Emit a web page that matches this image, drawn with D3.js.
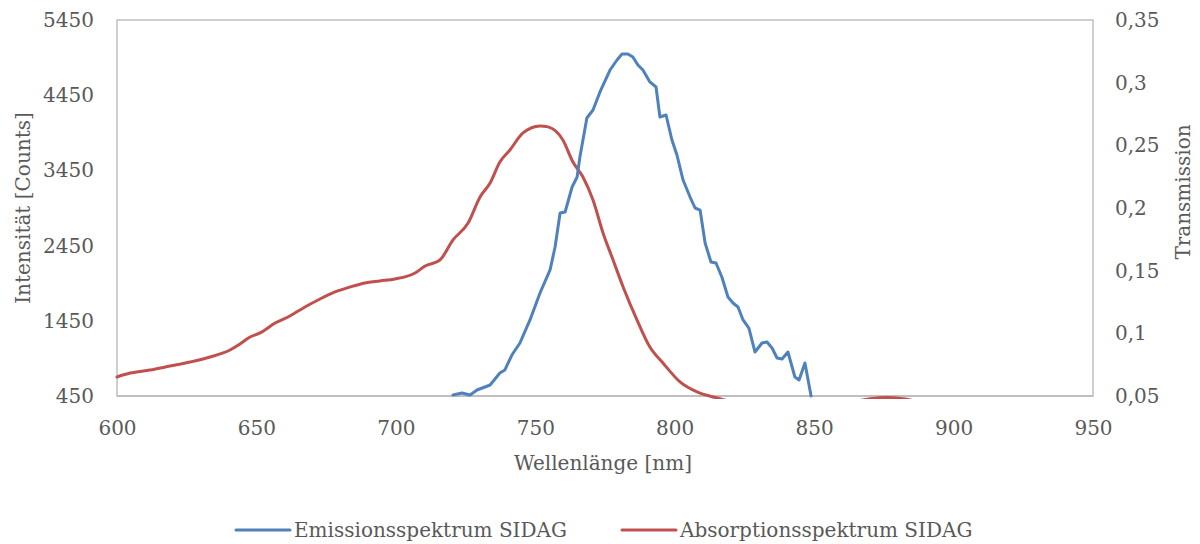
<!DOCTYPE html>
<html>
<head>
<meta charset="utf-8">
<script src="https://cdn.jsdelivr.net/npm/d3@7/dist/d3.min.js"></script>
<style>
  html, body { margin: 0; padding: 0; background: #fff; }
  svg text { font-family: "DejaVu Serif", serif; fill: #595959; }
</style>
</head>
<body>
<div id="chart"></div>
<script>
// Emissionsspektrum (linke Achse, Counts)
const emWave = [720.5, 723.7, 726.6, 729.1, 733.8, 737.3, 739.1, 741.6, 744.5, 748.1,
  751.7, 755.3, 757.1, 758.9, 760.7, 763.2, 765.0, 766.0, 768.5, 770.7,
  773.2, 776.8, 779.3, 781.1, 783.2, 785.0, 786.8, 788.6, 791.1, 793.3,
  794.7, 796.9, 799.0, 800.8, 803.0, 805.5, 807.3, 809.1, 810.9, 813.0,
  814.8, 816.9, 819.1, 820.9, 822.7, 824.5, 826.6, 828.8, 831.3, 833.1,
  834.9, 836.7, 838.5, 840.6, 843.1, 844.6, 846.7, 848.9];
const emCounts = [463, 490, 463, 530, 596, 756, 796, 995, 1155, 1461,
  1820, 2126, 2431, 2884, 2897, 3229, 3362, 3628, 4147, 4253,
  4493, 4785, 4918, 4998, 4998, 4958, 4852, 4785, 4626, 4559,
  4160, 4187, 3854, 3655, 3322, 3096, 2950, 2923, 2485, 2232,
  2219, 2032, 1767, 1687, 1634, 1461, 1354, 1035, 1155, 1168,
  1088, 955, 942, 1035, 703, 663, 889, 450];

// Absorptionsspektrum (rechte Achse, Transmission)
const absWave = [600.0, 604.7, 611.8, 619.0, 626.2, 633.4, 640.5, 644.1, 647.7, 651.3,
  656.7, 662.0, 667.4, 672.8, 678.2, 683.6, 688.9, 694.3, 699.7, 703.3,
  706.9, 710.5, 715.8, 720.5, 725.9, 730.2, 733.8, 737.3, 740.9, 745.6,
  751.7, 754.6, 759.9, 763.5, 767.1, 770.7, 774.3, 777.9, 781.5, 786.5,
  791.1, 795.8, 801.9, 808.0, 815.2, 825, 850, 863, 870, 876,
  882, 889, 910, 950];
const absTrans = [0.0652, 0.0683, 0.0707, 0.0739, 0.0771, 0.0811, 0.0867, 0.0915, 0.0971, 0.1003,
  0.1082, 0.1138, 0.1210, 0.1274, 0.1330, 0.1370, 0.1402, 0.1418, 0.1434, 0.1450,
  0.1481, 0.1537, 0.1585, 0.1745, 0.1880, 0.2088, 0.2200, 0.2367, 0.2463, 0.2599,
  0.2655, 0.2647, 0.2543, 0.2367, 0.2247, 0.2064, 0.1801, 0.1585, 0.1370, 0.1106,
  0.0891, 0.0763, 0.0612, 0.0532, 0.0484, 0.044, 0.043, 0.045, 0.0478, 0.0488,
  0.0478, 0.045, 0.043, 0.043];

const xTicks = [600, 650, 700, 750, 800, 850, 900, 950];
const yLeftTicks = [450, 1450, 2450, 3450, 4450, 5450];
const yRightTicks = [0.05, 0.1, 0.15, 0.2, 0.25, 0.3, 0.35];

const seriesNames = ["Emissionsspektrum SIDAG", "Absorptionsspektrum SIDAG"];
const seriesColors = ["#4f81bd", "#c0504d"];

const W = 1200, H = 544;
const m = { top: 20, right: 107, bottom: 148, left: 117 };
const iw = W - m.left - m.right, ih = H - m.top - m.bottom;

const x = d3.scaleLinear().domain([600, 950]).range([0, iw]);
const yL = d3.scaleLinear().domain([450, 5450]).range([ih, 0]);
const yR = d3.scaleLinear().domain([0.05, 0.35]).range([ih, 0]);

const svg = d3.select("#chart").append("svg")
  .attr("width", W).attr("height", H);

svg.append("defs").append("clipPath").attr("id", "plotclip")
  .append("rect").attr("x", -2).attr("y", -3).attr("width", iw + 4).attr("height", ih + 6);

const g = svg.append("g").attr("transform", `translate(${m.left},${m.top})`);

// Rahmen der Zeichenfläche
g.append("rect")
  .attr("x", 0).attr("y", 0).attr("width", iw).attr("height", ih)
  .attr("fill", "none").attr("stroke", "#bfbfbf").attr("stroke-width", 1.5);

// Achsen (nur Beschriftungen)
const xAxis = g.append("g").attr("transform", `translate(0,${ih})`)
  .call(d3.axisBottom(x).tickValues(xTicks).tickSize(0).tickPadding(24).tickFormat(d3.format("d")));
const yAxisL = g.append("g")
  .call(d3.axisLeft(yL).tickValues(yLeftTicks).tickSize(0).tickPadding(23).tickFormat(d3.format("d")));
const fmtR = d => String(+d.toFixed(2)).replace(".", ",");
const yAxisR = g.append("g").attr("transform", `translate(${iw},0)`)
  .call(d3.axisRight(yR).tickValues(yRightTicks).tickSize(0).tickPadding(22).tickFormat(fmtR));

[xAxis, yAxisL, yAxisR].forEach(a => {
  a.select(".domain").remove();
  a.selectAll("text").attr("font-size", "20px").attr("font-family", "DejaVu Serif").attr("fill", "#595959");
});
xAxis.selectAll("text").attr("dy", "0.35em").attr("y", 32);

// Grundlinie
g.append("line")
  .attr("x1", 0).attr("x2", iw).attr("y1", ih).attr("y2", ih)
  .attr("stroke", "#bfbfbf").attr("stroke-width", 2);

// Kurven
const emData = emWave.map((w, i) => [w, emCounts[i]]);
const absData = absWave.map((w, i) => [w, absTrans[i]]);

const lines = g.append("g").attr("clip-path", "url(#plotclip)");

lines.append("path")
  .datum(absData)
  .attr("fill", "none").attr("stroke", seriesColors[1]).attr("stroke-width", 3)
  .attr("stroke-linejoin", "round").attr("stroke-linecap", "round")
  .attr("d", d3.line().x(d => x(d[0])).y(d => yR(d[1])).curve(d3.curveMonotoneX));

lines.append("path")
  .datum(emData)
  .attr("fill", "none").attr("stroke", seriesColors[0]).attr("stroke-width", 3)
  .attr("stroke-linejoin", "round").attr("stroke-linecap", "round")
  .attr("d", d3.line().x(d => x(d[0])).y(d => yL(d[1])));

// Achsentitel
svg.append("text")
  .attr("x", m.left + iw / 2 - 2).attr("y", 463).attr("dy", "0.35em")
  .attr("text-anchor", "middle").attr("font-size", "20px")
  .text("Wellenlänge [nm]");

svg.append("text")
  .attr("transform", `translate(23,${m.top + ih / 2}) rotate(-90)`)
  .attr("dy", "0.35em").attr("text-anchor", "middle").attr("font-size", "20px")
  .text("Intensität [Counts]");

svg.append("text")
  .attr("transform", `translate(1183,192) rotate(-90)`)
  .attr("dy", "0.35em").attr("text-anchor", "middle").attr("font-size", "20px")
  .text("Transmission");

// Legende
const legX = [236, 622];
const leg = svg.append("g");
seriesNames.forEach((name, i) => {
  leg.append("line")
    .attr("x1", legX[i]).attr("x2", legX[i] + 54).attr("y1", 530).attr("y2", 530)
    .attr("stroke", seriesColors[i]).attr("stroke-width", 3).attr("stroke-linecap", "round");
  leg.append("text")
    .attr("x", legX[i] + 58).attr("y", 530).attr("dy", "0.35em").attr("font-size", "20px")
    .text(name);
});
</script>
</body>
</html>
